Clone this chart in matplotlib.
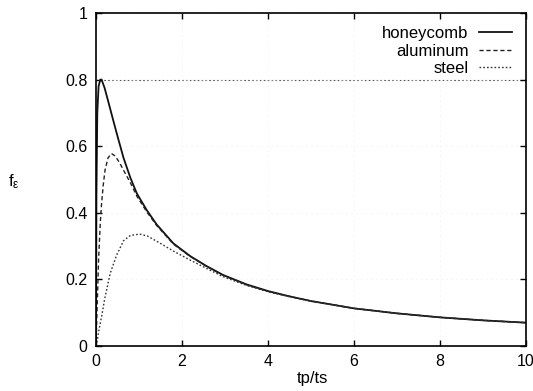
import numpy as np
import matplotlib.pyplot as plt

plt.rcParams['font.family'] = ['Liberation Sans', 'DejaVu Sans']
plt.rcParams['mathtext.fontset'] = 'custom'
plt.rcParams['mathtext.rm'] = 'Liberation Sans'
plt.rcParams['mathtext.it'] = 'Liberation Sans'

# data
hc_x = [0, 0.01, 0.03, 0.06, 0.1, 0.13, 0.2, 0.3, 0.4, 0.5, 0.64, 0.8, 0.95, 1.18,
        1.41, 1.8, 2.19, 2.57, 2.96, 3.5, 4, 4.5, 5, 6, 7, 8, 9, 10]
hc_y = [0, 0.45, 0.7, 0.78, 0.8, 0.8, 0.775, 0.727, 0.678, 0.63, 0.565, 0.505, 0.458, 0.408,
        0.365, 0.308, 0.270, 0.240, 0.213, 0.185, 0.165, 0.149, 0.135, 0.113, 0.098, 0.086, 0.077, 0.070]

al_x = [0, 0.03, 0.06, 0.1, 0.13, 0.17, 0.21, 0.28, 0.36, 0.45, 0.55, 0.64, 0.8, 0.95, 1.18,
        1.41, 1.8, 2.19, 2.57, 2.96, 3.5, 4, 4.5, 5, 6, 7, 8, 9, 10]
al_y = [0, 0.13, 0.26, 0.37, 0.428, 0.485, 0.528, 0.565, 0.578, 0.57, 0.55, 0.528, 0.49, 0.45, 0.403,
        0.362, 0.306, 0.269, 0.239, 0.212, 0.184, 0.164, 0.149, 0.135, 0.113, 0.098, 0.086, 0.077, 0.070]

st_x = [0, 0.02, 0.07, 0.13, 0.2, 0.33, 0.48, 0.64, 0.8, 1.02, 1.2, 1.5, 1.8, 2.19, 2.57,
        2.96, 3.5, 4, 4.5, 5, 6, 7, 8, 9, 10]
st_y = [0, 0.01, 0.05, 0.088, 0.14, 0.218, 0.273, 0.316, 0.332, 0.336, 0.33, 0.308, 0.285, 0.258, 0.233,
        0.208, 0.182, 0.163, 0.148, 0.135, 0.113, 0.098, 0.086, 0.077, 0.070]

fig = plt.figure(figsize=(5.33, 3.91), dpi=100)
ax = fig.add_axes([96/533, 1-346/391, 430/533, 333/391])

ax.plot(hc_x, hc_y, color='#111111', lw=1.3, label='honeycomb')
ax.plot(al_x, al_y, color='#222222', lw=1.0, linestyle=(0, (3, 2)), label='aluminum')
ax.plot(st_x, st_y, color='#333333', lw=1.0, linestyle=(0, (1.2, 1.5)), label='steel')
ax.axhline(0.8, color='#555555', lw=0.8, linestyle=(0, (1.5, 2)), zorder=0)

ax.set_xlim(0, 10)
ax.set_ylim(0, 1)
ax.set_xticks([0, 2, 4, 6, 8, 10])
ax.set_yticks([0, 0.2, 0.4, 0.6, 0.8, 1])
ax.set_yticklabels(['0', '0.2', '0.4', '0.6', '0.8', '1'])
ax.tick_params(direction='in', length=4, width=1, top=True, right=True,
               labelsize=11.5, pad=6)
ax.grid(True, color='#e6e6e6', lw=0.6, linestyle=(0, (1, 5)))
for s in ax.spines.values():
    s.set_linewidth(1.2)

ax.legend(loc='upper right', bbox_to_anchor=((512-96)/430, (346-26)/333),
          frameon=False, markerfirst=False, fontsize=12, borderpad=0,
          borderaxespad=0, handlelength=2.0, handletextpad=0.6, labelspacing=0.15)

fig.text(14/533, 1-182/391, r'$\mathrm{f_\epsilon}$', fontsize=12, ha='center', va='center')
fig.text(312/533, 1-378/391, 'tp/ts', fontsize=12, ha='center', va='center')

fig.savefig('out.png', dpi=100)
